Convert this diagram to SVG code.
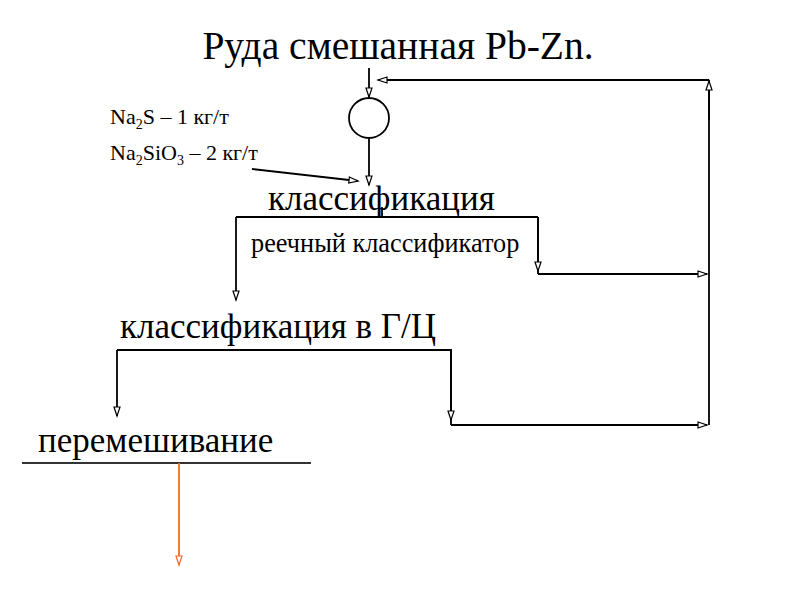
<svg xmlns="http://www.w3.org/2000/svg" width="800" height="600" viewBox="0 0 800 600">
<style>
.tx{font-family:'Liberation Serif','DejaVu Serif',serif;fill:#000}
.t{font-size:35px}
.sm{font-size:22px}
.sub{font-size:14px}
.mid{font-size:26.3px}
.ln{fill:none;stroke:#000;stroke-width:1.8}
</style>
<defs>
<marker id="ah" markerUnits="userSpaceOnUse" markerWidth="12" markerHeight="10" refX="10" refY="4" orient="auto">
<path d="M1,1 L10,4 L1,7 Z" fill="#fff" stroke="#000" stroke-width="1.2"/>
</marker>
<marker id="aho" markerUnits="userSpaceOnUse" markerWidth="12" markerHeight="10" refX="10" refY="4" orient="auto">
<path d="M1,1 L10,4 L1,7 Z" fill="#fff" stroke="#f26a2a" stroke-width="1.2"/>
</marker>
</defs>
<rect width="800" height="600" fill="#fff"/>
<g id="title"><text class="tx" x="398" y="59" text-anchor="middle" font-size="39.5">Руда смешанная Pb-Zn.</text></g>
<g id="mixer"><circle cx="369" cy="118" r="20" fill="#fff" stroke="#000" stroke-width="1.8"/></g>
<g id="reagents">
<text x="110" y="124" class="tx sm">Na<tspan class="sub" dy="5">2</tspan><tspan dy="-5">S – 1 кг/т</tspan></text>
<text x="110" y="160" class="tx sm">Na<tspan class="sub" dy="5">2</tspan><tspan dy="-5">SiO</tspan><tspan class="sub" dy="5">3</tspan><tspan dy="-5"> – 2 кг/т</tspan></text>
</g>
<g id="classif1"><text x="268" y="210" class="tx t">классификация</text></g>
<g id="rake"><text x="251" y="252" class="tx mid">реечный классификатор</text></g>
<g id="classif2"><text x="120" y="338" class="tx t">классификация в Г/Ц</text></g>
<g id="mixing"><text x="38" y="452" class="tx t">перемешивание</text>
<line x1="22" y1="463" x2="311" y2="463" stroke="#333" stroke-width="2"/></g>
<g id="connectors">
<line class="ln" x1="369" y1="68" x2="369" y2="97" marker-end="url(#ah)"/>
<line class="ln" x1="369" y1="138" x2="369" y2="185" marker-end="url(#ah)"/>
<line class="ln" x1="252" y1="169" x2="358" y2="181" marker-end="url(#ah)"/>
<line class="ln" x1="382" y1="207" x2="382" y2="217"/>
<polyline class="ln" points="236,217 538,217"/>
<line class="ln" x1="236" y1="217" x2="236" y2="300" marker-end="url(#ah)"/>
<line class="ln" x1="538" y1="217" x2="538" y2="274"/>
<line class="ln" x1="538" y1="217" x2="538" y2="271" marker-end="url(#ah)"/>
<line class="ln" x1="538" y1="274" x2="707" y2="274" marker-end="url(#ah)"/>
<polyline class="ln" points="117,350 451,350 451,425"/>
<line class="ln" x1="117" y1="350" x2="117" y2="416" marker-end="url(#ah)"/>
<line class="ln" x1="451" y1="350" x2="451" y2="420" marker-end="url(#ah)"/>
<line class="ln" x1="451" y1="425" x2="707" y2="425" marker-end="url(#ah)"/>
<line class="ln" x1="709" y1="425" x2="709" y2="80"/>
<line class="ln" x1="709" y1="120" x2="709" y2="81" marker-end="url(#ah)"/>
<line class="ln" x1="709" y1="80" x2="378" y2="80" marker-end="url(#ah)"/>
<line x1="179" y1="463" x2="179" y2="565" stroke="#f26a2a" stroke-width="1.8" marker-end="url(#aho)"/>
</g>
</svg>
